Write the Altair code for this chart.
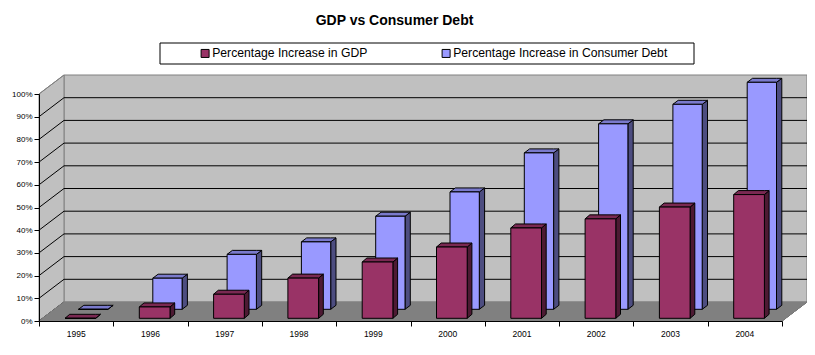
import altair as alt
import pandas as pd

years = ["1995","1996","1997","1998","1999","2000","2001","2002","2003","2004"]
gdp = [0, 5, 10.6, 17.7, 24.8, 31.4, 39.8, 43.8, 49, 54.5]
debt = [0, 13.7, 24.2, 29.7, 41, 51.7, 68.9, 81.7, 90.3, 100]
S_GDP = "Percentage Increase in GDP"
S_DEBT = "Percentage Increase in Consumer Debt"
FONT = "Liberation Sans"

W, H = 743, 227
PX_U = W / 10
PX_V = H / 100
WALL_DU = 25 / PX_U
WALL_DV = 19 / PX_V
XS = alt.Scale(domain=[0, 10], nice=False, zero=False)
YS = alt.Scale(domain=[0, 100], nice=False, zero=False)

AXIS_X = alt.Axis(values=list(range(11)), labels=False, grid=False, domainColor="black", tickColor="black",
                  tickSize=5, zindex=1, title=None)
AXIS_Y = alt.Axis(values=list(range(0, 101, 10)), grid=False, domainColor="black", tickColor="black", tickSize=5,
                  labelExpr="datum.value + '%'", labelFont=FONT, labelFontSize=8, labelColor="black", labelPadding=2,
                  zindex=1, title=None)


def X():
    return alt.X("x:Q", scale=XS, axis=AXIS_X, title=None)


def Y():
    return alt.Y("y:Q", scale=YS, axis=AXIS_Y, title=None)


def area(df, fill, stroke="black"):
    return alt.Chart(df).mark_area(fill=fill, stroke=stroke, strokeWidth=1).encode(
        x=X(), y=Y(), y2=alt.Y2("y2"), detail="id:N")


def rules(rows, color):
    return alt.Chart(pd.DataFrame(rows)).mark_rule(color=color, strokeWidth=1).encode(
        x=X(), y=Y(), x2="x2:Q", y2="y2:Q")


def pts(i, *p):
    return [dict(id=i, k=k, x=a, y=b, y2=c) for k, (a, b, c) in enumerate(p)]


# Walls and floor
left_wall = pd.DataFrame(pts(0, (0, 0, 100), (WALL_DU, WALL_DV, 100 + WALL_DV)))
floor = pd.DataFrame(pts(0, (0, 0, 0), (WALL_DU, 0 + WALL_DV, 0), (10, WALL_DV, 0), (10 + WALL_DU, WALL_DV, WALL_DV)))
back_wall = pd.DataFrame([dict(x=WALL_DU, x2=10 + WALL_DU, y=WALL_DV, y2=100 + WALL_DV)])

wall_rect = alt.Chart(back_wall).mark_rect(fill="#C0C0C0", stroke="#808080", strokeWidth=1).encode(
    x=X(), x2="x2:Q", y=Y(), y2="y2:Q")
wall_left = area(left_wall, "#C0C0C0", "#808080")
grid_back = rules([dict(x=WALL_DU, x2=10 + WALL_DU, y=p + WALL_DV, y2=p + WALL_DV) for p in range(10, 100, 10)], "black")
grid_diag = rules([dict(x=0, x2=WALL_DU, y=p, y2=p + WALL_DV) for p in range(0, 100, 10)]
                  + [dict(x=10, x2=10 + WALL_DU, y=0, y2=WALL_DV)], "black")
top_diag = rules([dict(x=0, x2=WALL_DU, y=100, y2=100 + WALL_DV)], "#808080")
floor_layer = area(floor, "#808080", "#808080")


def bar_layers(values, series, left_px, width_px, base_px, depth_x, depth_y, top_c, side_c):
    du, dv = depth_x / PX_U, depth_y / PX_V
    off, wid, base = left_px / PX_U, width_px / PX_U, base_px / PX_V
    tops, sides, fronts = [], [], []
    for i, v in enumerate(values):
        x0, x1, b, t = i + off, i + off + wid, base, base + v
        tops += pts(i, (x0, t, t), (x0 + du, t, t + dv), (x1, t, t + dv), (x1 + du, t + dv, t + dv))
        sides += pts(i, (x1, b, t), (x1 + du, b + dv, t + dv))
        fronts.append(dict(x=x0, x2=x1, y=b, y2=t, series=series))
    front = alt.Chart(pd.DataFrame(fronts)).mark_rect(stroke="black", strokeWidth=1).encode(
        x=X(), x2="x2:Q", y=Y(), y2="y2:Q",
        color=alt.Color("series:N", scale=alt.Scale(domain=[S_GDP, S_DEBT], range=["#993366", "#9999FF"]),
                        legend=alt.Legend(title=None, orient="none", legendX=160, legendY=-47, columns=2,
                                          columnPadding=72, symbolType="square", symbolSize=64,
                                          symbolStrokeColor="black", symbolStrokeWidth=1, symbolOpacity=1,
                                          labelFont=FONT, labelFontSize=12.2, labelColor="black", labelOffset=1,
                                          labelLimit=400, padding=0)))
    return [area(pd.DataFrame(sides), side_c), area(pd.DataFrame(tops), top_c), front]


legend_box = alt.Chart(pd.DataFrame([dict(a=1)])).mark_rect(fill="white", stroke="black", strokeWidth=1).encode(
    x=alt.value(121), x2=alt.value(655), y=alt.value(-51), y2=alt.value(-30))

year_text = alt.Chart(pd.DataFrame(dict(x=[i + 0.5 for i in range(10)], y=[0] * 10, label=years))).mark_text(
    font=FONT, fontSize=8.5, color="black", dy=12.5).encode(x=X(), y=Y(), text="label:N")

layers = [wall_rect, wall_left, grid_back, grid_diag, top_diag, floor_layer, legend_box, year_text]
layers += bar_layers(debt, S_DEBT, 39.5, 29.3, 11.7, 5.3, 4, "#7A7ACC", "#4D4D80")
layers += bar_layers(gdp, S_GDP, 26, 30.7, 2.7, 4.7, 4, "#7A2952", "#4D1A33")

chart = alt.layer(*layers).properties(
    width=W, height=H,
    title=alt.TitleParams("GDP vs Consumer Debt", font=FONT, fontSize=14, fontWeight="bold", color="black",
                          anchor="middle", dx=-16, offset=15),
    autosize="none",
    padding={"left": 31, "top": 86, "right": 25, "bottom": 20},
    background="white",
).configure_view(stroke=None)

chart.save("out.html", embed_options={"renderer": "svg", "actions": False})
